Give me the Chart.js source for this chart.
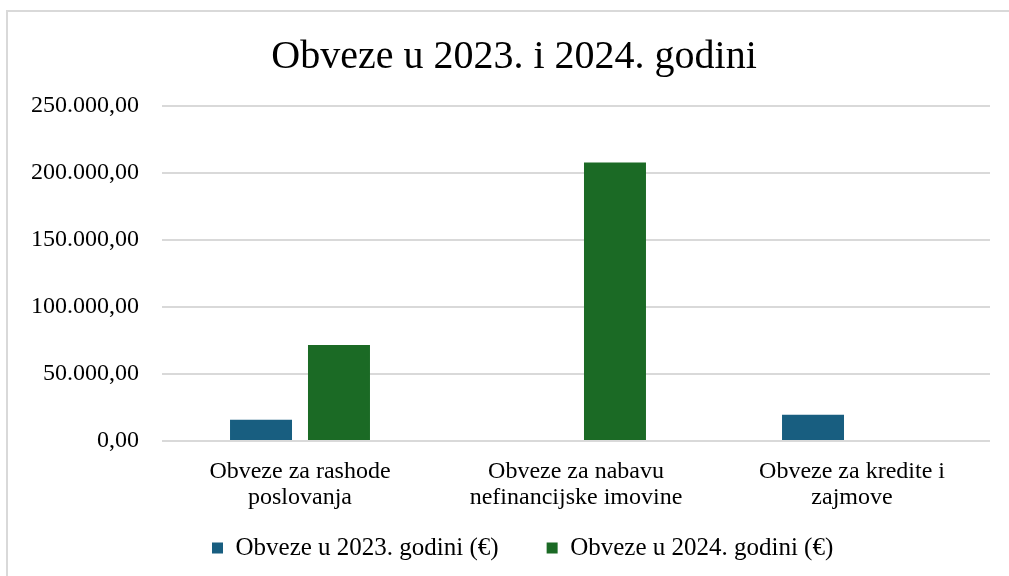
<!DOCTYPE html>
<html>
<head>
<meta charset="utf-8">
<script src="https://cdn.jsdelivr.net/npm/chart.js@4/dist/chart.umd.min.js"></script>
<style>
  html, body { margin: 0; padding: 0; background: #fff; overflow: hidden; }
  #wrap { position: relative; width: 1009px; height: 576px; }
  #frame { position: absolute; left: 6px; top: 10px; width: 1100px; height: 700px; border: 2px solid #d9d9d9; box-sizing: border-box; }
  #c { position: absolute; left: 0; top: 0; }
</style>
</head>
<body>
<div id="wrap">
  <div id="frame"></div>
  <canvas id="c" width="1009" height="576"></canvas>
</div>
<script>
const chartTitle = "Obveze u 2023. i 2024. godini";
const categories = [
  ["Obveze za rashode", "poslovanja"],
  ["Obveze za nabavu", "nefinancijske imovine"],
  ["Obveze za kredite i", "zajmove"]
];
const seriesNames = ["Obveze u 2023. godini (€)", "Obveze u 2024. godini (€)"];
const values2023 = [15900, 0, 19600];
const values2024 = [71600, 207800, 0];
const yTickValues = [0, 50000, 100000, 150000, 200000, 250000];
const yTickLabels = ["0,00", "50.000,00", "100.000,00", "150.000,00", "200.000,00", "250.000,00"];

const FONT = '"Liberation Serif", "Times New Roman", serif';
const LEGEND_PAD = 48;

// position the centred title / legend blocks like the original
const shiftPlugin = {
  id: 'shiftBlocks',
  beforeDraw(chart) {
    if (chart.$shifted) return;
    chart.$shifted = true;
    if (chart.titleBlock) { chart.titleBlock.left += 19; chart.titleBlock.right += 19; }
    const lg = chart.legend;
    if (lg && lg.lineWidths) {
      const lw = lg.lineWidths[0];
      lg.top = 487.5;
      lg.left = 0;
      lg.right = 424 - LEGEND_PAD + lw;
    }
  }
};

new Chart(document.getElementById('c'), {
  type: 'bar',
  data: {
    labels: categories,
    datasets: [
      { label: seriesNames[0], data: values2023, backgroundColor: '#185E80', borderWidth: 0 },
      { label: seriesNames[1], data: values2024, backgroundColor: '#1B6A25', borderWidth: 0 }
    ]
  },
  plugins: [shiftPlugin],
  options: {
    responsive: false,
    animation: false,
    devicePixelRatio: 1,
    categoryPercentage: 0.565,
    barPercentage: 0.795,
    layout: { padding: { left: 0, right: 19, top: 0, bottom: -30 } },
    plugins: {
      title: {
        display: true,
        text: chartTitle,
        color: '#000',
        font: { family: FONT, size: 40, weight: 'normal', lineHeight: 1.2 },
        padding: { top: 33, bottom: 25 }
      },
      legend: {
        position: 'bottom',
        labels: {
          color: '#000',
          font: { family: FONT, size: 25 },
          boxWidth: 11,
          boxHeight: 11,
          padding: LEGEND_PAD
        }
      },
      tooltip: { enabled: false }
    },
    scales: {
      x: {
        grid: { display: false },
        border: { display: false },
        ticks: {
          color: '#000',
          font: { family: FONT, size: 24, lineHeight: 1.1 },
          padding: 9.5,
          maxRotation: 0,
          autoSkip: false
        },
        afterFit: (s) => { s.height = 82; }
      },
      y: {
        min: 0,
        max: 250000,
        afterBuildTicks: (s) => { s.ticks = yTickValues.map(v => ({ value: v })); },
        grid: { color: '#d9d9d9', lineWidth: 2, drawTicks: false },
        border: { display: false },
        ticks: {
          color: '#000',
          font: { family: FONT, size: 24 },
          padding: 23,
          callback: (v) => { const i = yTickValues.indexOf(v); return i >= 0 ? yTickLabels[i] : ''; }
        },
        afterFit: (s) => { s.width = 162; }
      }
    }
  }
});
</script>
</body>
</html>
